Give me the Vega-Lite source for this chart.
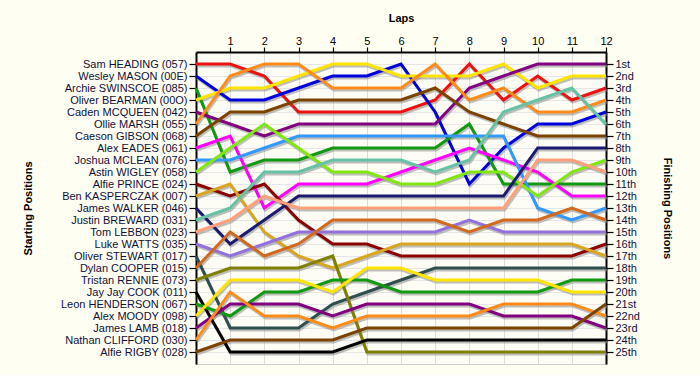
{
  "$schema": "https://vega.github.io/schema/vega-lite/v6.json",
  "width": 410,
  "height": 312,
  "autosize": {"type": "none"},
  "padding": {"left": 196, "top": 52, "right": 94, "bottom": 11},
  "background": "#FEFEF3",
  "config": {
    "view": {"fill": "#FDFDF6", "stroke": "#cccccc"},
    "axis": {"labelFont": "Liberation Sans", "titleFont": "Liberation Sans", "labelFontSize": 11, "titleFontSize": 11, "titleFontWeight": "bold", "labelColor": "#10103a", "titleColor": "#000000", "domainColor": "#000000", "domainWidth": 2, "tickColor": "#000000", "tickWidth": 1.2}
  },
  "data": {"values": [
    {"d":1,"l":0,"p":1},{"d":1,"l":1,"p":1},{"d":1,"l":2,"p":2},{"d":1,"l":3,"p":5},{"d":1,"l":4,"p":5},{"d":1,"l":5,"p":5},{"d":1,"l":6,"p":5},{"d":1,"l":7,"p":4},{"d":1,"l":8,"p":1},{"d":1,"l":9,"p":4},{"d":1,"l":10,"p":2},{"d":1,"l":11,"p":4},{"d":1,"l":12,"p":3},
    {"d":2,"l":0,"p":2},{"d":2,"l":1,"p":4},{"d":2,"l":2,"p":4},{"d":2,"l":3,"p":3},{"d":2,"l":4,"p":2},{"d":2,"l":5,"p":2},{"d":2,"l":6,"p":1},{"d":2,"l":7,"p":5},{"d":2,"l":8,"p":11},{"d":2,"l":9,"p":8},{"d":2,"l":10,"p":6},{"d":2,"l":11,"p":6},{"d":2,"l":12,"p":5},
    {"d":3,"l":0,"p":3},{"d":3,"l":1,"p":10},{"d":3,"l":2,"p":9},{"d":3,"l":3,"p":9},{"d":3,"l":4,"p":8},{"d":3,"l":5,"p":8},{"d":3,"l":6,"p":8},{"d":3,"l":7,"p":8},{"d":3,"l":8,"p":6},{"d":3,"l":9,"p":11},{"d":3,"l":10,"p":11},{"d":3,"l":11,"p":11},{"d":3,"l":12,"p":11},
    {"d":4,"l":0,"p":4},{"d":4,"l":1,"p":3},{"d":4,"l":2,"p":3},{"d":4,"l":3,"p":2},{"d":4,"l":4,"p":1},{"d":4,"l":5,"p":1},{"d":4,"l":6,"p":2},{"d":4,"l":7,"p":2},{"d":4,"l":8,"p":2},{"d":4,"l":9,"p":1},{"d":4,"l":10,"p":3},{"d":4,"l":11,"p":2},{"d":4,"l":12,"p":2},
    {"d":5,"l":0,"p":5},{"d":5,"l":1,"p":6},{"d":5,"l":2,"p":7},{"d":5,"l":3,"p":6},{"d":5,"l":4,"p":6},{"d":5,"l":5,"p":6},{"d":5,"l":6,"p":6},{"d":5,"l":7,"p":6},{"d":5,"l":8,"p":3},{"d":5,"l":9,"p":2},{"d":5,"l":10,"p":1},{"d":5,"l":11,"p":1},{"d":5,"l":12,"p":1},
    {"d":6,"l":0,"p":6},{"d":6,"l":1,"p":2},{"d":6,"l":2,"p":1},{"d":6,"l":3,"p":1},{"d":6,"l":4,"p":3},{"d":6,"l":5,"p":3},{"d":6,"l":6,"p":3},{"d":6,"l":7,"p":1},{"d":6,"l":8,"p":4},{"d":6,"l":9,"p":3},{"d":6,"l":10,"p":5},{"d":6,"l":11,"p":5},{"d":6,"l":12,"p":4},
    {"d":7,"l":0,"p":7},{"d":7,"l":1,"p":5},{"d":7,"l":2,"p":5},{"d":7,"l":3,"p":4},{"d":7,"l":4,"p":4},{"d":7,"l":5,"p":4},{"d":7,"l":6,"p":4},{"d":7,"l":7,"p":3},{"d":7,"l":8,"p":5},{"d":7,"l":9,"p":6},{"d":7,"l":10,"p":7},{"d":7,"l":11,"p":7},{"d":7,"l":12,"p":7},
    {"d":8,"l":0,"p":8},{"d":8,"l":1,"p":7},{"d":8,"l":2,"p":13},{"d":8,"l":3,"p":11},{"d":8,"l":4,"p":11},{"d":8,"l":5,"p":11},{"d":8,"l":6,"p":10},{"d":8,"l":7,"p":9},{"d":8,"l":8,"p":8},{"d":8,"l":9,"p":9},{"d":8,"l":10,"p":10},{"d":8,"l":11,"p":12},{"d":8,"l":12,"p":12},
    {"d":9,"l":0,"p":9},{"d":9,"l":1,"p":9},{"d":9,"l":2,"p":8},{"d":9,"l":3,"p":7},{"d":9,"l":4,"p":7},{"d":9,"l":5,"p":7},{"d":9,"l":6,"p":7},{"d":9,"l":7,"p":7},{"d":9,"l":8,"p":7},{"d":9,"l":9,"p":7},{"d":9,"l":10,"p":13},{"d":9,"l":11,"p":14},{"d":9,"l":12,"p":13},
    {"d":10,"l":0,"p":10},{"d":10,"l":1,"p":8},{"d":10,"l":2,"p":6},{"d":10,"l":3,"p":8},{"d":10,"l":4,"p":10},{"d":10,"l":5,"p":10},{"d":10,"l":6,"p":11},{"d":10,"l":7,"p":11},{"d":10,"l":8,"p":10},{"d":10,"l":9,"p":10},{"d":10,"l":10,"p":12},{"d":10,"l":11,"p":10},{"d":10,"l":12,"p":9},
    {"d":11,"l":0,"p":11},{"d":11,"l":1,"p":12},{"d":11,"l":2,"p":11},{"d":11,"l":3,"p":14},{"d":11,"l":4,"p":16},{"d":11,"l":5,"p":16},{"d":11,"l":6,"p":17},{"d":11,"l":7,"p":17},{"d":11,"l":8,"p":17},{"d":11,"l":9,"p":17},{"d":11,"l":10,"p":17},{"d":11,"l":11,"p":17},{"d":11,"l":12,"p":16},
    {"d":12,"l":0,"p":12},{"d":12,"l":1,"p":11},{"d":12,"l":2,"p":15},{"d":12,"l":3,"p":17},{"d":12,"l":4,"p":18},{"d":12,"l":5,"p":17},{"d":12,"l":6,"p":16},{"d":12,"l":7,"p":16},{"d":12,"l":8,"p":16},{"d":12,"l":9,"p":16},{"d":12,"l":10,"p":16},{"d":12,"l":11,"p":16},{"d":12,"l":12,"p":17},
    {"d":13,"l":0,"p":13},{"d":13,"l":1,"p":16},{"d":13,"l":2,"p":14},{"d":13,"l":3,"p":12},{"d":13,"l":4,"p":12},{"d":13,"l":5,"p":12},{"d":13,"l":6,"p":12},{"d":13,"l":7,"p":12},{"d":13,"l":8,"p":12},{"d":13,"l":9,"p":12},{"d":13,"l":10,"p":8},{"d":13,"l":11,"p":8},{"d":13,"l":12,"p":8},
    {"d":14,"l":0,"p":14},{"d":14,"l":1,"p":13},{"d":14,"l":2,"p":10},{"d":14,"l":3,"p":10},{"d":14,"l":4,"p":9},{"d":14,"l":5,"p":9},{"d":14,"l":6,"p":9},{"d":14,"l":7,"p":10},{"d":14,"l":8,"p":9},{"d":14,"l":9,"p":5},{"d":14,"l":10,"p":4},{"d":14,"l":11,"p":3},{"d":14,"l":12,"p":6},
    {"d":15,"l":0,"p":15},{"d":15,"l":1,"p":14},{"d":15,"l":2,"p":12},{"d":15,"l":3,"p":13},{"d":15,"l":4,"p":13},{"d":15,"l":5,"p":13},{"d":15,"l":6,"p":13},{"d":15,"l":7,"p":13},{"d":15,"l":8,"p":13},{"d":15,"l":9,"p":13},{"d":15,"l":10,"p":9},{"d":15,"l":11,"p":9},{"d":15,"l":12,"p":10},
    {"d":16,"l":0,"p":16},{"d":16,"l":1,"p":17},{"d":16,"l":2,"p":16},{"d":16,"l":3,"p":15},{"d":16,"l":4,"p":15},{"d":16,"l":5,"p":15},{"d":16,"l":6,"p":15},{"d":16,"l":7,"p":15},{"d":16,"l":8,"p":14},{"d":16,"l":9,"p":15},{"d":16,"l":10,"p":15},{"d":16,"l":11,"p":15},{"d":16,"l":12,"p":15},
    {"d":17,"l":0,"p":17},{"d":17,"l":1,"p":23},{"d":17,"l":2,"p":23},{"d":17,"l":3,"p":23},{"d":17,"l":4,"p":21},{"d":17,"l":5,"p":20},{"d":17,"l":6,"p":19},{"d":17,"l":7,"p":18},{"d":17,"l":8,"p":18},{"d":17,"l":9,"p":18},{"d":17,"l":10,"p":18},{"d":17,"l":11,"p":18},{"d":17,"l":12,"p":18},
    {"d":18,"l":0,"p":18},{"d":18,"l":1,"p":15},{"d":18,"l":2,"p":17},{"d":18,"l":3,"p":16},{"d":18,"l":4,"p":14},{"d":18,"l":5,"p":14},{"d":18,"l":6,"p":14},{"d":18,"l":7,"p":14},{"d":18,"l":8,"p":15},{"d":18,"l":9,"p":14},{"d":18,"l":10,"p":14},{"d":18,"l":11,"p":13},{"d":18,"l":12,"p":14},
    {"d":19,"l":0,"p":19},{"d":19,"l":1,"p":18},{"d":19,"l":2,"p":18},{"d":19,"l":3,"p":18},{"d":19,"l":4,"p":17},{"d":19,"l":5,"p":25},{"d":19,"l":6,"p":25},{"d":19,"l":7,"p":25},{"d":19,"l":8,"p":25},{"d":19,"l":9,"p":25},{"d":19,"l":10,"p":25},{"d":19,"l":11,"p":25},{"d":19,"l":12,"p":25},
    {"d":20,"l":0,"p":20},{"d":20,"l":1,"p":25},{"d":20,"l":2,"p":25},{"d":20,"l":3,"p":25},{"d":20,"l":4,"p":25},{"d":20,"l":5,"p":24},{"d":20,"l":6,"p":24},{"d":20,"l":7,"p":24},{"d":20,"l":8,"p":24},{"d":20,"l":9,"p":24},{"d":20,"l":10,"p":24},{"d":20,"l":11,"p":24},{"d":20,"l":12,"p":24},
    {"d":21,"l":0,"p":21},{"d":21,"l":1,"p":22},{"d":21,"l":2,"p":20},{"d":21,"l":3,"p":20},{"d":21,"l":4,"p":19},{"d":21,"l":5,"p":19},{"d":21,"l":6,"p":20},{"d":21,"l":7,"p":20},{"d":21,"l":8,"p":20},{"d":21,"l":9,"p":20},{"d":21,"l":10,"p":20},{"d":21,"l":11,"p":19},{"d":21,"l":12,"p":19},
    {"d":22,"l":0,"p":22},{"d":22,"l":1,"p":19},{"d":22,"l":2,"p":19},{"d":22,"l":3,"p":19},{"d":22,"l":4,"p":20},{"d":22,"l":5,"p":18},{"d":22,"l":6,"p":18},{"d":22,"l":7,"p":19},{"d":22,"l":8,"p":19},{"d":22,"l":9,"p":19},{"d":22,"l":10,"p":19},{"d":22,"l":11,"p":20},{"d":22,"l":12,"p":20},
    {"d":23,"l":0,"p":23},{"d":23,"l":1,"p":21},{"d":23,"l":2,"p":21},{"d":23,"l":3,"p":21},{"d":23,"l":4,"p":22},{"d":23,"l":5,"p":21},{"d":23,"l":6,"p":21},{"d":23,"l":7,"p":21},{"d":23,"l":8,"p":21},{"d":23,"l":9,"p":22},{"d":23,"l":10,"p":22},{"d":23,"l":11,"p":22},{"d":23,"l":12,"p":23},
    {"d":24,"l":0,"p":24},{"d":24,"l":1,"p":20},{"d":24,"l":2,"p":22},{"d":24,"l":3,"p":22},{"d":24,"l":4,"p":23},{"d":24,"l":5,"p":22},{"d":24,"l":6,"p":22},{"d":24,"l":7,"p":22},{"d":24,"l":8,"p":22},{"d":24,"l":9,"p":21},{"d":24,"l":10,"p":21},{"d":24,"l":11,"p":21},{"d":24,"l":12,"p":22},
    {"d":25,"l":0,"p":25},{"d":25,"l":1,"p":24},{"d":25,"l":2,"p":24},{"d":25,"l":3,"p":24},{"d":25,"l":4,"p":24},{"d":25,"l":5,"p":23},{"d":25,"l":6,"p":23},{"d":25,"l":7,"p":23},{"d":25,"l":8,"p":23},{"d":25,"l":9,"p":23},{"d":25,"l":10,"p":23},{"d":25,"l":11,"p":23},{"d":25,"l":12,"p":21}
  ]},
  "layer": [
    {
      "mark": {"type": "line", "stroke": "#8a8a8a", "strokeWidth": 3, "opacity": 0.55, "xOffset": 1, "yOffset": 2},
      "encoding": {
        "x": {"field": "l", "type": "quantitative", "scale": {"domain": [0, 12], "nice": false, "zero": false},
          "axis": {"orient": "top", "values": [1,2,3,4,5,6,7,8,9,10,11,12], "grid": true, "gridColor": "#dddddd", "gridWidth": 1, "tickSize": 5, "labelPadding": 1, "labelFlush": false, "title": "Laps", "titleX": 205, "titleY": -34, "titleBaseline": "middle", "labelColor": "#000000"}},
        "y": {"field": "p", "type": "quantitative", "scale": {"domain": [0, 26], "reverse": true, "nice": false, "zero": false},
          "axis": {"orient": "left", "values": [1,2,3,4,5,6,7,8,9,10,11,12,13,14,15,16,17,18,19,20,21,22,23,24,25], "grid": true, "gridColor": "#e6e6e6", "tickSize": 7, "labelPadding": 2, "title": "Starting Positions", "titleAngle": -90, "titleX": -168, "titleY": 156, "titleBaseline": "middle", "titleAlign": "center",
            "labelExpr": "['', 'Sam HEADING (057)', 'Wesley MASON (00E)', 'Archie SWINSCOE (085)', 'Oliver BEARMAN (00O)', 'Caden MCQUEEN (042)', 'Ollie MARSH (055)', 'Caeson GIBSON (068)', 'Alex EADES (061)', 'Joshua MCLEAN (076)', 'Astin WIGLEY (058)', 'Alfie PRINCE (024)', 'Ben KASPERCZAK (007)', 'James WALKER (046)', 'Justin BREWARD (031)', 'Tom LEBBON (023)', 'Luke WATTS (035)', 'Oliver STEWART (017)', 'Dylan COOPER (015)', 'Tristan RENNIE (073)', 'Jay Jay COOK (011)', 'Leon HENDERSON (067)', 'Alex MOODY (098)', 'James LAMB (018)', 'Nathan CLIFFORD (030)', 'Alfie RIGBY (028)'][datum.value]"}},
        "detail": {"field": "d", "type": "nominal"}
      }
    },
    {
      "mark": {"type": "line", "strokeWidth": 3},
      "encoding": {
        "x": {"field": "l", "type": "quantitative", "axis": null},
        "y": {"field": "p", "type": "quantitative",
          "axis": {"orient": "right", "values": [1,2,3,4,5,6,7,8,9,10,11,12,13,14,15,16,17,18,19,20,21,22,23,24,25], "grid": false, "tickSize": 7, "labelPadding": 2, "title": "Finishing Positions", "titleAngle": 90, "titleX": 60, "titleY": 156, "titleBaseline": "middle", "titleAlign": "center",
            "labelExpr": "datum.value + ((datum.value % 10 == 1 && datum.value != 11) ? 'st' : (datum.value % 10 == 2 && datum.value != 12) ? 'nd' : (datum.value % 10 == 3 && datum.value != 13) ? 'rd' : 'th')"}},
        "color": {"field": "d", "type": "nominal", "legend": null,
          "scale": {"domain": [1,2,3,4,5,6,7,8,9,10,11,12,13,14,15,16,17,18,19,20,21,22,23,24,25],
            "range": ["#EE1111","#0000DD","#119911","#FFE400","#800080","#FF8C1A","#7B4200","#FF00FF","#3399FF","#80E810","#8B0000","#DAA520","#1A1A70","#66C2A5","#FFA07A","#9370DB","#2F4F4F","#D2691E","#808000","#000000","#119911","#FFE400","#800080","#FF8C1A","#7B4200"]}}
      }
    }
  ],
  "resolve": {"axis": {"x": "independent", "y": "independent"}}
}
